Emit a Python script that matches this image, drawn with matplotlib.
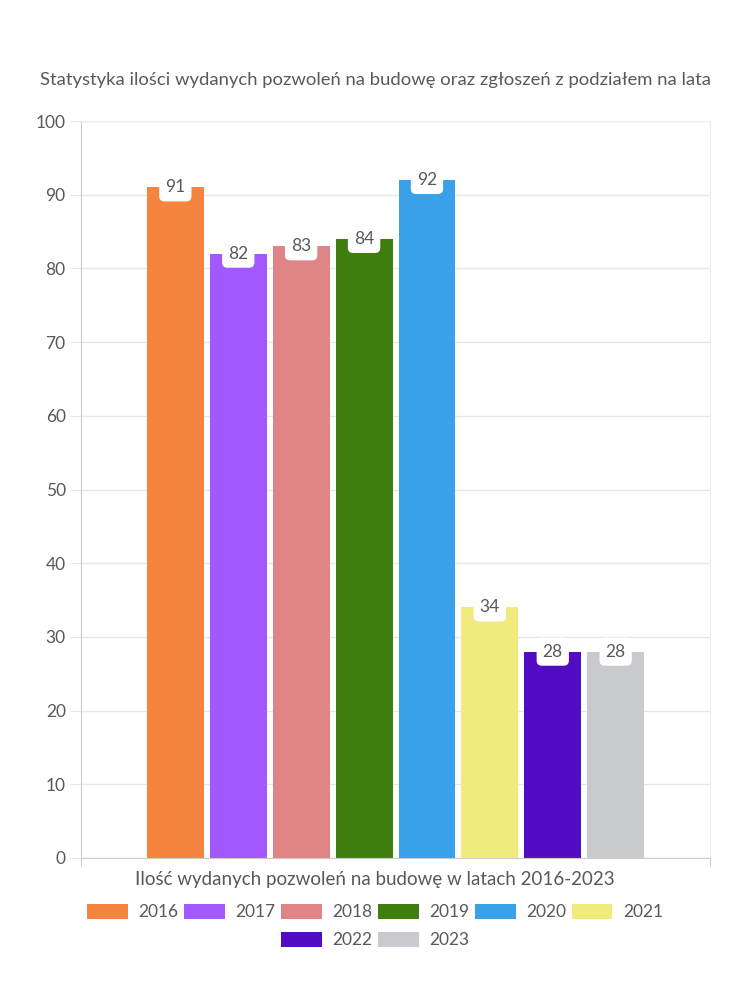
import matplotlib
matplotlib.use("Agg")
import matplotlib.pyplot as plt
from matplotlib.patches import Patch
import numpy as np

TITLE = "Statystyka ilości wydanych pozwoleń na budowę oraz zgłoszeń z podziałem na lata"
XLABEL = "Ilość wydanych pozwoleń na budowę w latach 2016-2023"
years = ["2016", "2017", "2018", "2019", "2020", "2021", "2022", "2023"]
values = [91, 82, 83, 84, 92, 34, 28, 28]
colors = ["#F5843F", "#A259FF", "#E08585", "#3F7D0E",
          "#38A1EA", "#F0EB7D", "#520CC4", "#C9CACD"]
yticks = list(range(0, 101, 10))

TEXT = "#595959"
plt.rcParams.update({
    "font.family": ["Lato", "DejaVu Sans"],
    "font.size": 12.5,
    "text.color": TEXT,
    "xtick.color": TEXT,
    "ytick.color": TEXT,
})

fig = plt.figure(figsize=(7.5, 10), dpi=100)
ax = fig.add_axes([0.108, 0.142, 0.8387, 0.737])

n = len(values)
group_w = 0.8
bw = group_w / n
xs = -group_w / 2 + bw * (np.arange(n) + 0.5)
for x, v, c in zip(xs, values, colors):
    ax.bar(x, v, width=bw * 0.905, color=c, zorder=2)
    ax.text(x, v, str(v), ha="center", va="center", fontsize=12.5, color=TEXT, zorder=3,
            bbox=dict(boxstyle="round,pad=0.35,rounding_size=0.3", fc="white", ec="none"))

ax.set_xlim(-0.5, 0.5)
ax.set_ylim(0, 100)
ax.set_yticks(yticks)
ax.set_xticks([-0.5, 0.5])
ax.set_xticklabels(["", ""])
ax.grid(axis="y", color="#e6e6e6", linewidth=1, zorder=0)
ax.tick_params(axis="y", length=8, color="#e6e6e6", pad=3)
ax.tick_params(axis="x", length=6, color="#cccccc")
for s in ["left", "bottom"]:
    ax.spines[s].set_color("#cccccc")
for s in ["top", "right"]:
    ax.spines[s].set_color("#eeeeee")

fig.text(0.5, 0.92, TITLE, ha="center", va="center", fontsize=13.3, color=TEXT)
fig.text(0.5, 0.121, XLABEL, ha="center", va="center", fontsize=13.5, color=TEXT)

handles = [Patch(facecolor=c, edgecolor="none") for c in colors]
common = dict(frameon=False, fontsize=12.5, handlelength=2.35, handleheight=1.0,
              handletextpad=0.6, columnspacing=0.32, borderpad=0, labelcolor=TEXT)
fig.legend(handles[:6], years[:6], ncol=6, loc="center",
           bbox_to_anchor=(0.5, 0.088), **common)
fig.legend(handles[6:], years[6:], ncol=2, loc="center",
           bbox_to_anchor=(0.5, 0.06), **common)

fig.savefig("out.png", dpi=100, facecolor="white")
